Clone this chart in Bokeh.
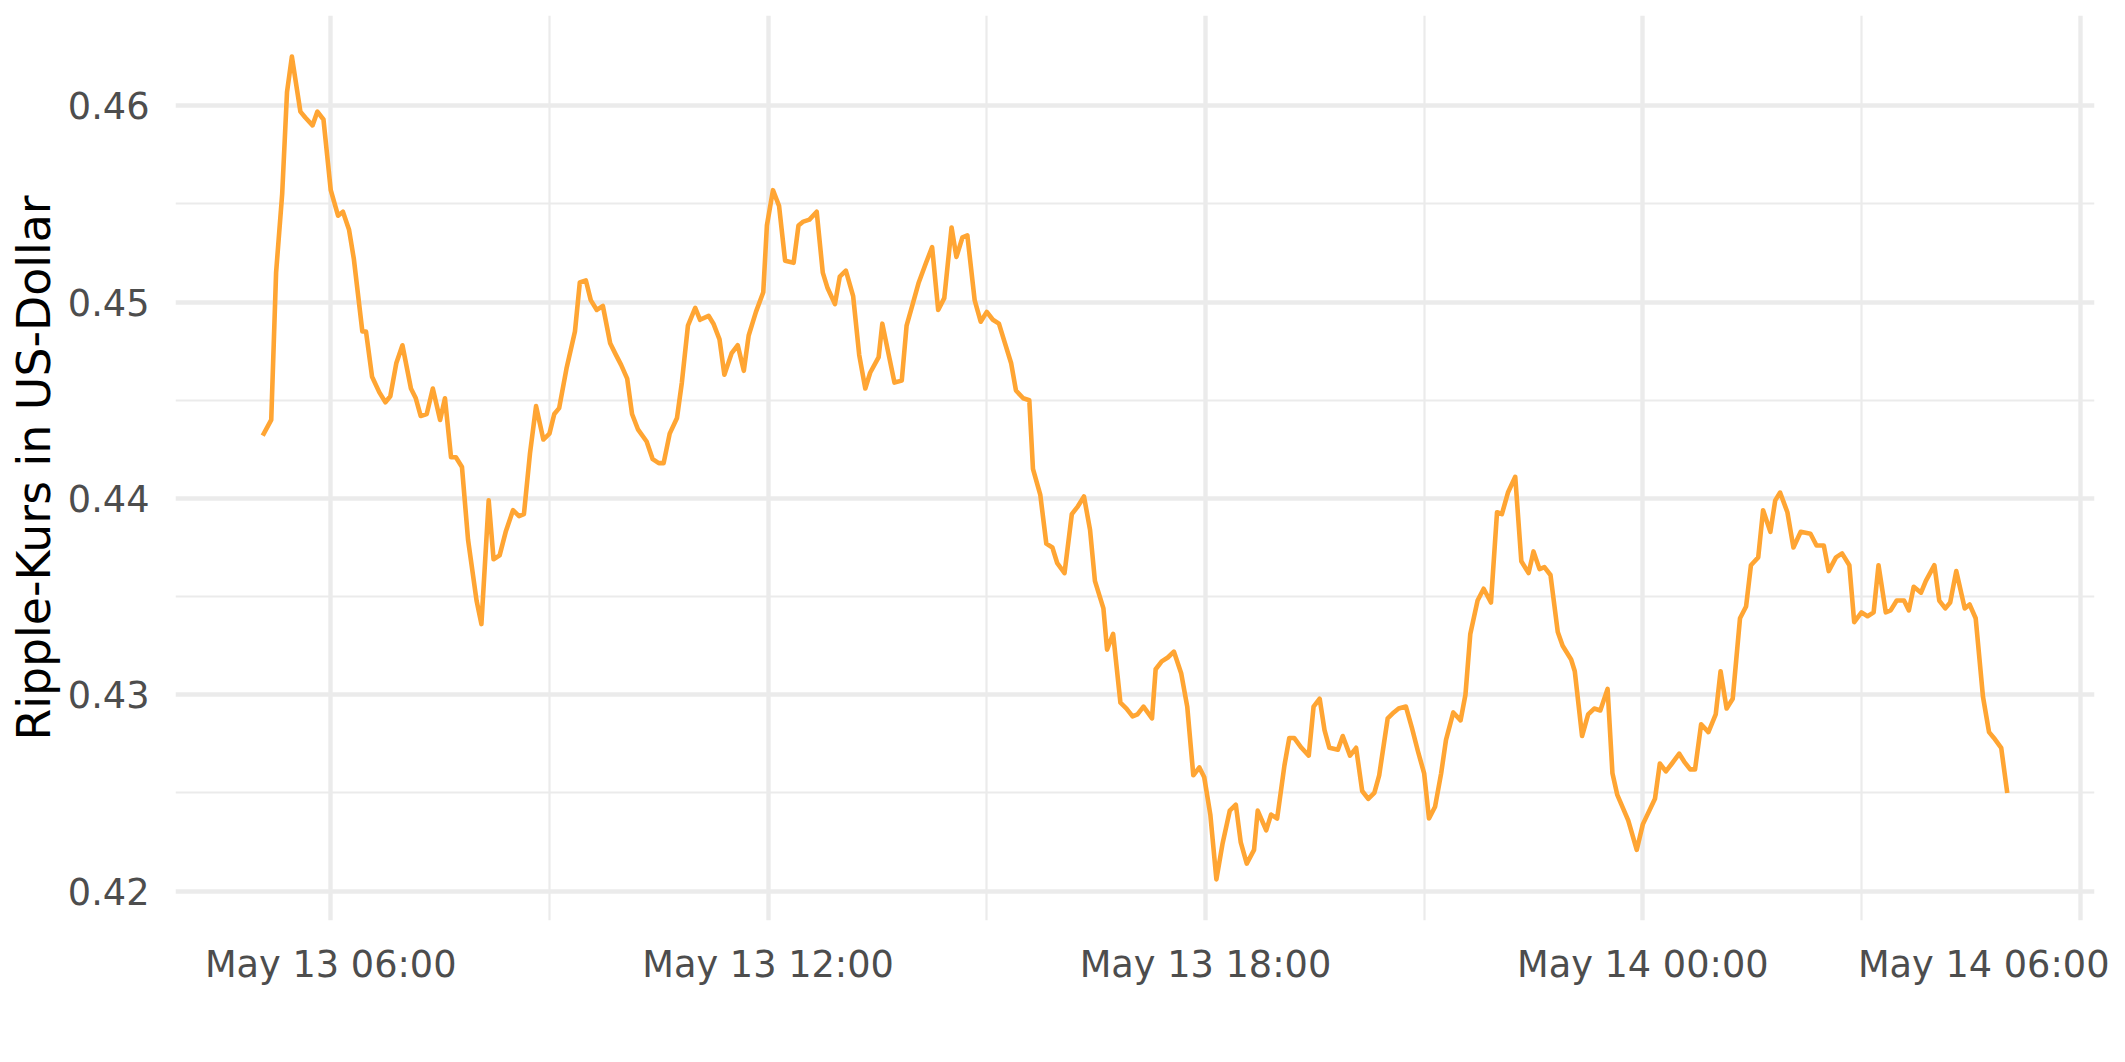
from datetime import datetime, timedelta

from bokeh.embed import file_html
from bokeh.models import DatetimeTickFormatter, FixedTicker, Range1d
from bokeh.plotting import figure
from bokeh.resources import INLINE

# ---- data: Ripple price (USD); time = minutes after 13 May 00:00
minutes = [
    304, 311, 315, 320, 324, 328, 335, 339, 345, 349, 354, 360, 366, 370, 375, 379, 386, 389,
    394, 400, 405, 409, 414, 419, 426, 430, 434, 439, 444, 450, 454, 459, 463, 468, 473, 480,
    484, 490, 494, 499, 504, 510, 515, 519, 524, 529, 535, 540, 544, 548, 554, 561, 565, 570,
    574, 579, 584, 590, 594, 599, 604, 608, 613, 620, 625, 630, 634, 639, 645, 649, 654, 660,
    664, 671, 675, 680, 684, 690, 695, 700, 704, 710, 716, 719, 724, 729, 734, 741, 745, 749,
    754, 760, 765, 769, 775, 779, 784, 790, 795, 800, 804, 811, 814, 819, 824, 830, 834, 839,
    844, 850, 855, 860, 865, 871, 875, 880, 884, 890, 895, 900, 905, 910, 915, 920, 924, 930,
    935, 938, 944, 949, 954, 958, 964, 970, 975, 980, 985, 989, 996, 999, 1004, 1010, 1015,
    1020, 1024, 1029, 1036, 1039, 1044, 1049, 1054, 1060, 1065, 1070, 1075, 1079, 1084, 1089,
    1094, 1100, 1105, 1109, 1114, 1120, 1123, 1130, 1134, 1139, 1145, 1149, 1153, 1159, 1165,
    1169, 1174, 1178, 1182, 1189, 1193, 1199, 1204, 1209, 1214, 1219, 1223, 1230, 1235, 1239,
    1245, 1250, 1255, 1260, 1264, 1269, 1274, 1278, 1284, 1290, 1294, 1298, 1304, 1309, 1315,
    1320, 1324, 1329, 1335, 1340, 1346, 1350, 1355, 1359, 1364, 1370, 1374, 1381, 1384, 1390,
    1395, 1400, 1405, 1411, 1415, 1419, 1428, 1435, 1440, 1450, 1454, 1459, 1464, 1470, 1474,
    1479, 1483, 1488, 1494, 1500, 1504, 1509, 1514, 1520, 1525, 1529, 1535, 1539, 1545, 1549,
    1553, 1559, 1564, 1570, 1578, 1583, 1589, 1593, 1599, 1604, 1610, 1614, 1620, 1625, 1630,
    1634, 1640, 1644, 1649, 1655, 1659, 1663, 1669, 1673, 1680, 1684, 1689, 1693, 1698, 1705,
    1709, 1714, 1720, 1725, 1729, 1735, 1740,
]
price = [
    0.4432, 0.4440, 0.4515, 0.4555, 0.4607, 0.4625, 0.4597, 0.4594, 0.4590, 0.4597, 0.4593,
    0.4557, 0.4544, 0.4546, 0.4537, 0.4522, 0.4485, 0.4485, 0.4462, 0.4454, 0.4449, 0.4452,
    0.4469, 0.4478, 0.4456, 0.4451, 0.4442, 0.4443, 0.4456, 0.4440, 0.4451, 0.4421, 0.4421,
    0.4416, 0.4379, 0.4348, 0.4336, 0.4399, 0.4369, 0.4371, 0.4383, 0.4394, 0.4391, 0.4392,
    0.4423, 0.4447, 0.4430, 0.4433, 0.4443, 0.4446, 0.4466, 0.4485, 0.4510, 0.4511, 0.4501,
    0.4496, 0.4498, 0.4479, 0.4474, 0.4468, 0.4461, 0.4443, 0.4435, 0.4429, 0.4420, 0.4418,
    0.4418, 0.4433, 0.4441, 0.4459, 0.4488, 0.4497, 0.4491, 0.4493, 0.4489, 0.4481, 0.4463,
    0.4474, 0.4478, 0.4465, 0.4483, 0.4495, 0.4505, 0.4539, 0.4557, 0.4549, 0.4521, 0.4520,
    0.4539, 0.4541, 0.4542, 0.4546, 0.4515, 0.4507, 0.4499, 0.4513, 0.4516, 0.4503, 0.4473,
    0.4456, 0.4464, 0.4472, 0.4489, 0.4474, 0.4459, 0.4460, 0.4488, 0.4499, 0.4510, 0.4520,
    0.4528, 0.4496, 0.4502, 0.4538, 0.4523, 0.4533, 0.4534, 0.4501, 0.4490, 0.4495, 0.4491,
    0.4489, 0.4479, 0.4469, 0.4455, 0.4451, 0.4450, 0.4415, 0.4402, 0.4377, 0.4375, 0.4367,
    0.4362, 0.4392, 0.4396, 0.4401, 0.4384, 0.4358, 0.4344, 0.4323, 0.4331, 0.4296, 0.4293,
    0.4289, 0.4290, 0.4294, 0.4288, 0.4313, 0.4317, 0.4319, 0.4322, 0.4311, 0.4294, 0.4259,
    0.4263, 0.4258, 0.4239, 0.4206, 0.4224, 0.4241, 0.4244, 0.4225, 0.4214, 0.4221, 0.4241,
    0.4231, 0.4239, 0.4237, 0.4264, 0.4278, 0.4278, 0.4273, 0.4269, 0.4294, 0.4298, 0.4282,
    0.4273, 0.4272, 0.4279, 0.4269, 0.4273, 0.4251, 0.4247, 0.4250, 0.4259, 0.4288, 0.4291,
    0.4293, 0.4294, 0.4283, 0.4271, 0.4260, 0.4237, 0.4243, 0.4260, 0.4277, 0.4291, 0.4287,
    0.4300, 0.4331, 0.4348, 0.4354, 0.4347, 0.4393, 0.4392, 0.4403, 0.4411, 0.4368, 0.4362,
    0.4373, 0.4364, 0.4365, 0.4361, 0.4332, 0.4325, 0.4318, 0.4312, 0.4279, 0.4290, 0.4293,
    0.4292, 0.4303, 0.4260, 0.4249, 0.4236, 0.4221, 0.4234, 0.4247, 0.4265, 0.4261, 0.4265,
    0.4270, 0.4266, 0.4262, 0.4262, 0.4285, 0.4281, 0.4290, 0.4312, 0.4293, 0.4298, 0.4339,
    0.4345, 0.4366, 0.4370, 0.4394, 0.4383, 0.4399, 0.4403, 0.4393, 0.4375, 0.4383, 0.4382,
    0.4376, 0.4376, 0.4363, 0.4370, 0.4372, 0.4366, 0.4337, 0.4342, 0.4340, 0.4342, 0.4366,
    0.4342, 0.4343, 0.4348, 0.4348, 0.4343, 0.4355, 0.4352, 0.4358, 0.4366, 0.4348, 0.4344,
    0.4347, 0.4363, 0.4344, 0.4346, 0.4339, 0.4299, 0.4281, 0.4278, 0.4273, 0.4250,
]

x_major_hours = [6, 12, 18, 24, 30]       # May 13 06:00 ... May 14 06:00
x_minor_hours = [9, 15, 21, 27]
y_major = [0.42, 0.43, 0.44, 0.45, 0.46]
y_minor = [0.425, 0.435, 0.445, 0.455]
y_title = "Ripple-Kurs in US-Dollar"

base = datetime(2023, 5, 13)
epoch = datetime(1970, 1, 1)
FMT = "%b %d %H:%M"


def ms(dt):
    return (dt - epoch).total_seconds() * 1000.0


times = [base + timedelta(minutes=m) for m in minutes]
xs = [ms(t) for t in times]

# ggplot-like 5% expansion
xmin, xmax = min(xs), max(xs)
ymin, ymax = min(price), max(price)
xpad = 0.05 * (xmax - xmin)
ypad = 0.05 * (ymax - ymin)

p = figure(
    width=2109, height=1046,
    x_axis_type="datetime",
    output_backend="svg", toolbar_location=None,
    x_range=Range1d(xmin - xpad, xmax + xpad),
    y_range=Range1d(ymin - ypad, ymax + ypad),
    min_border_left=175, min_border_right=15, min_border_top=15, min_border_bottom=126,
)
p.outline_line_color = None
p.background_fill_color = "white"
p.border_fill_color = "white"

p.line(xs, price, line_color="#FFA533", line_width=4.6, line_join="round")

major_ms = [ms(base + timedelta(hours=h)) for h in x_major_hours]
minor_ms = [ms(base + timedelta(hours=h)) for h in x_minor_hours]

p.xaxis.ticker = FixedTicker(ticks=major_ms, minor_ticks=minor_ms)
p.xaxis.formatter = DatetimeTickFormatter(
    milliseconds=FMT, seconds=FMT, minsec=FMT, minutes=FMT, hourmin=FMT, hours=FMT,
    days=FMT, months=FMT, years=FMT,
)
p.yaxis.ticker = FixedTicker(ticks=y_major, minor_ticks=y_minor)

for ax in (p.xaxis, p.yaxis):
    ax.axis_line_color = None
    ax.major_tick_line_color = None
    ax.minor_tick_line_color = None
    ax.major_tick_out = 0
    ax.major_tick_in = 0
    ax.major_label_text_font = "DejaVu Sans"
    ax.major_label_text_font_size = "36.7px"
    ax.major_label_text_color = "#4D4D4D"

p.xaxis.major_label_standoff = 18
p.yaxis.major_label_standoff = 22

p.yaxis.axis_label = y_title
p.yaxis.axis_label_text_font = "DejaVu Sans"
p.yaxis.axis_label_text_font_size = "45.8px"
p.yaxis.axis_label_text_font_style = "normal"
p.yaxis.axis_label_text_color = "black"
p.yaxis.axis_label_standoff = 4

for g in (p.xgrid, p.ygrid):
    g.grid_line_color = "#EBEBEB"
    g.grid_line_width = 4.4
    g.minor_grid_line_color = "#EBEBEB"
    g.minor_grid_line_width = 2.2

open("out.html", "w").write(file_html(p, INLINE))
